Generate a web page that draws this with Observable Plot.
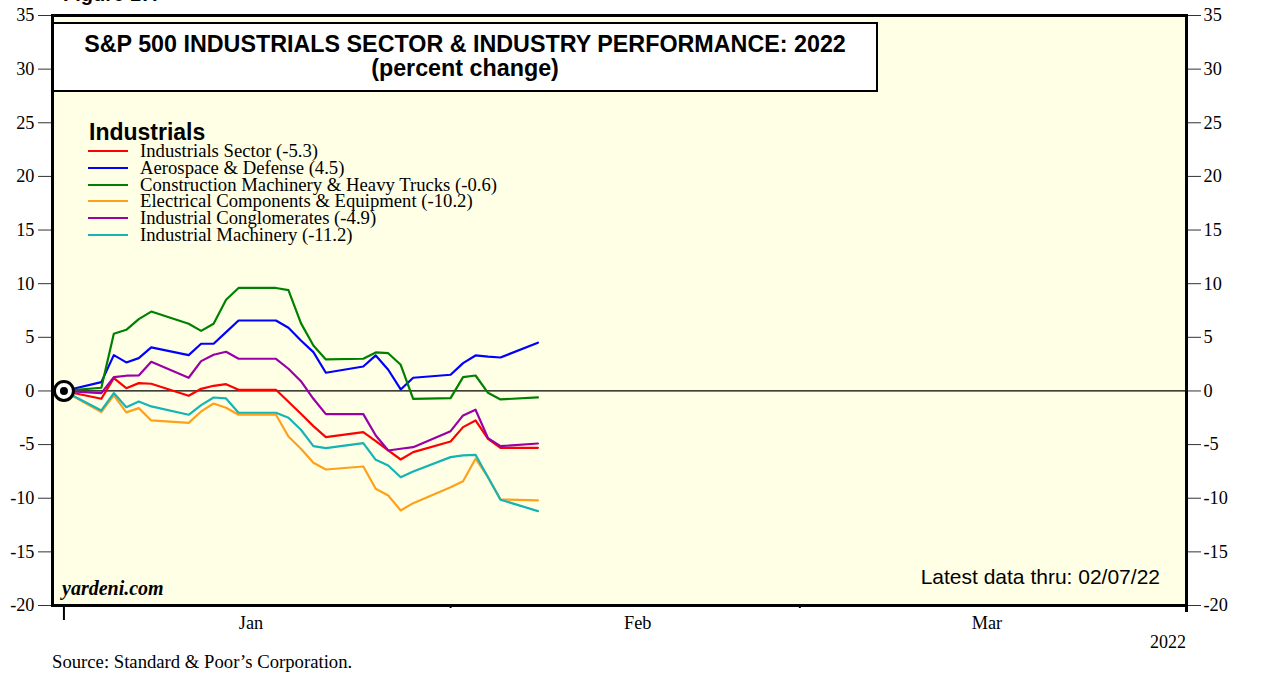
<!DOCTYPE html>
<html>
<head>
<meta charset="utf-8">
<script src="https://cdn.jsdelivr.net/npm/d3@7"></script>
<script src="https://cdn.jsdelivr.net/npm/@observablehq/plot@0.6"></script>
<style>
  html, body { margin: 0; padding: 0; background: #fff; overflow: hidden; }
  #wrap { position: relative; width: 1269px; height: 693px; }
  .ov { position: absolute; white-space: nowrap; color: #000; }
  #titlebox { position: absolute; left: 52px; top: 22px; width: 822px; height: 66px; background: #fff; border: 2px solid #000; }
  .t1 { font-family: "Liberation Sans", Arial, sans-serif; font-weight: bold; font-size: 23.3px; text-align: center; line-height: 24px; }
  .leg-row { position: absolute; left: 88px; height: 16px; width: 500px; font-family: "Liberation Serif", serif; font-size: 18.7px; line-height: 16px; white-space: nowrap; }
  .leg-line { position: absolute; left: 0; top: 7px; width: 40px; height: 0; border-top: 2.5px solid; }
  .leg-text { position: absolute; left: 52px; top: 0; white-space: nowrap; }
</style>
</head>
<body>
<div id="wrap"></div>
<script>
// ---- data ----
const dates = ["2021-12-31","2022-01-03","2022-01-04","2022-01-05","2022-01-06","2022-01-07","2022-01-10","2022-01-11","2022-01-12","2022-01-13","2022-01-14","2022-01-17","2022-01-18","2022-01-19","2022-01-20","2022-01-21","2022-01-24","2022-01-25","2022-01-26","2022-01-27","2022-01-28","2022-01-31","2022-02-01","2022-02-02","2022-02-03","2022-02-04","2022-02-07"];
const industrialsSector = [0,-0.73,1.19,0.26,0.73,0.67,-0.45,0.2,0.48,0.63,0.11,0.11,-1.0,-2.13,-3.28,-4.3,-3.84,-4.68,-5.55,-6.39,-5.7,-4.71,-3.37,-2.75,-4.46,-5.3,-5.3];
const aerospaceDefense = [0,0.82,3.34,2.66,3.06,4.06,3.34,4.4,4.4,5.48,6.57,6.57,5.89,4.71,3.62,1.7,2.28,3.31,1.98,0.14,1.23,1.51,2.59,3.31,3.2,3.12,4.5];
const constructionMachinery = [0,0.3,5.33,5.7,6.7,7.4,6.26,5.6,6.26,8.5,9.6,9.6,9.4,6.32,4.24,2.94,3.0,3.59,3.52,2.44,-0.73,-0.67,1.29,1.44,-0.17,-0.79,-0.6];
const electricalComponents = [0,-1.97,-0.42,-2.0,-1.6,-2.75,-2.97,-1.91,-1.17,-1.57,-2.22,-2.22,-4.24,-5.39,-6.69,-7.32,-7.04,-9.12,-9.74,-11.14,-10.46,-8.97,-8.41,-6.32,-8.04,-10.11,-10.2];
const industrialConglomerates = [0,-0.2,1.29,1.42,1.44,2.72,1.23,2.78,3.37,3.65,3.0,3.0,2.07,0.91,-0.73,-2.16,-2.16,-4.15,-5.55,-5.39,-5.24,-3.75,-2.28,-1.75,-4.4,-5.15,-4.9];
const industrialMachinery = [0,-1.82,-0.2,-1.51,-0.98,-1.44,-2.22,-1.32,-0.61,-0.7,-2.03,-2.03,-2.5,-3.62,-5.15,-5.33,-4.87,-6.42,-6.95,-8.04,-7.5,-6.17,-6.01,-5.95,-8.04,-10.14,-11.2];

const seriesNames = ["Industrials Sector","Aerospace & Defense","Construction Machinery & Heavy Trucks","Electrical Components & Equipment","Industrial Conglomerates","Industrial Machinery"];
const legendValues = ["-5.3","4.5","-0.6","-10.2","-4.9","-11.2"];
const seriesColors = ["#ff0000","#0000ff","#008000","#ffa01a","#9900a6","#14b4b4"];
const yTicks = [-20,-15,-10,-5,0,5,10,15,20,25,30,35];
const monthLabels = ["2022-01-16","2022-02-16","2022-03-16"];
const monthStarts = ["2022-02-01","2022-03-01"];
const yearStart = ["2022-01-01"];
const axisEnd = ["2022-04-01"];

// ---- build ----
const parse = d3.utcParse("%Y-%m-%d");
// values are end-of-day closes: plot each at the end of its trading day
const xOf = s => d3.utcDay.offset(parse(s), 1);
const allSeries = [industrialsSector, aerospaceDefense, constructionMachinery, electricalComponents, industrialConglomerates, industrialMachinery];
const rows = [];
allSeries.forEach((vals, i) => vals.forEach((v, j) => rows.push({date: xOf(dates[j]), value: v, series: seriesNames[i]})));
const base = [{date: xOf(dates[0]), value: industrialsSector[0]}];

const x0 = d3.utcHour.offset(parse("2022-01-01"), -22);
const x1 = parse("2022-04-01");
const yFmt = d => String(d);

const chart = Plot.plot({
  width: 1269,
  height: 693,
  marginLeft: 52,
  marginRight: 83,
  marginTop: 15,
  marginBottom: 88,
  style: {fontFamily: "'Liberation Serif', serif", fontSize: "18.3px", background: "transparent", color: "#000", overflow: "visible"},
  x: {type: "utc", domain: [x0, x1], axis: null},
  y: {domain: [-20, 35], axis: null},
  color: {domain: seriesNames, range: seriesColors},
  marks: [
    Plot.frame({fill: "#ffffe6"}),
    Plot.axisY({anchor: "left", ticks: yTicks, tickSize: 14, tickPadding: 4, tickFormat: yFmt, label: null, stroke: "#333"}),
    Plot.axisY({anchor: "right", ticks: yTicks, tickSize: 14, tickPadding: 3, tickFormat: yFmt, label: null, stroke: "#333"}),
    Plot.axisX({ticks: monthLabels.map(parse), tickSize: 0, tickPadding: 10, tickFormat: d3.utcFormat("%b"), label: null}),
    Plot.axisX({ticks: monthStarts.map(parse), tickSize: 3, tickFormat: () => "", label: null, strokeWidth: 2}),
    Plot.axisX({ticks: yearStart.map(parse), tickSize: 15, tickFormat: () => "", label: null, strokeWidth: 2}),
    Plot.axisX({ticks: axisEnd.map(parse), tickSize: 7, tickFormat: () => "", label: null, strokeWidth: 3}),
    Plot.ruleY([0], {stroke: "#000", strokeWidth: 1.3}),
    Plot.line(rows, {x: "date", y: "value", z: "series", stroke: "series", strokeWidth: 2.2, curve: "linear"}),
    Plot.dot(base, {x: "date", y: "value", r: 9.5, fill: "#fff", stroke: "#000", strokeWidth: 3}),
    Plot.dot(base, {x: "date", y: "value", r: 4, fill: "#000"}),
    Plot.frame({stroke: "#000", strokeWidth: 3})
  ]
});

const wrap = document.getElementById("wrap");
wrap.appendChild(chart);
chart.style.position = "absolute";
chart.style.left = "0";
chart.style.top = "0";

function add(html, css, cls) {
  const d = document.createElement("div");
  d.className = cls || "ov";
  d.innerHTML = html;
  Object.assign(d.style, css);
  wrap.appendChild(d);
  return d;
}

add("Figure 17.", {left: "63px", top: "-17px", fontFamily: "'Liberation Sans', Arial, sans-serif", fontWeight: "bold", fontSize: "20px"});

const tb = add("", {}, "");
tb.id = "titlebox";
add("S&amp;P 500 INDUSTRIALS SECTOR &amp; INDUSTRY PERFORMANCE: 2022<br>(percent change)", {left: "52px", width: "826px", top: "32px"}, "ov t1");

add("Industrials", {left: "89px", top: "119px", fontFamily: "'Liberation Sans', Arial, sans-serif", fontWeight: "bold", fontSize: "23px", lineHeight: "26px"});
seriesNames.forEach((name, i) => {
  const r = document.createElement("div");
  r.className = "leg-row";
  r.style.top = (143 + i * 16.8) + "px";
  r.innerHTML = `<div class="leg-line" style="border-color:${seriesColors[i]}"></div><div class="leg-text"></div>`;
  r.querySelector(".leg-text").textContent = `${name} (${legendValues[i]})`;
  wrap.appendChild(r);
});

add("yardeni.com", {left: "62px", top: "577px", fontFamily: "'Liberation Serif', serif", fontWeight: "bold", fontStyle: "italic", fontSize: "20px"});
add("Latest data thru: 02/07/22", {right: (1269 - 1160) + "px", top: "565px", fontFamily: "'Liberation Sans', Arial, sans-serif", fontSize: "21px"});
add("2022", {right: (1269 - 1186) + "px", top: "632px", fontFamily: "'Liberation Serif', serif", fontSize: "18px"});
add("Source: Standard &amp; Poor’s Corporation.", {left: "52px", top: "651px", fontFamily: "'Liberation Serif', serif", fontSize: "18.7px"});
</script>
</body>
</html>
